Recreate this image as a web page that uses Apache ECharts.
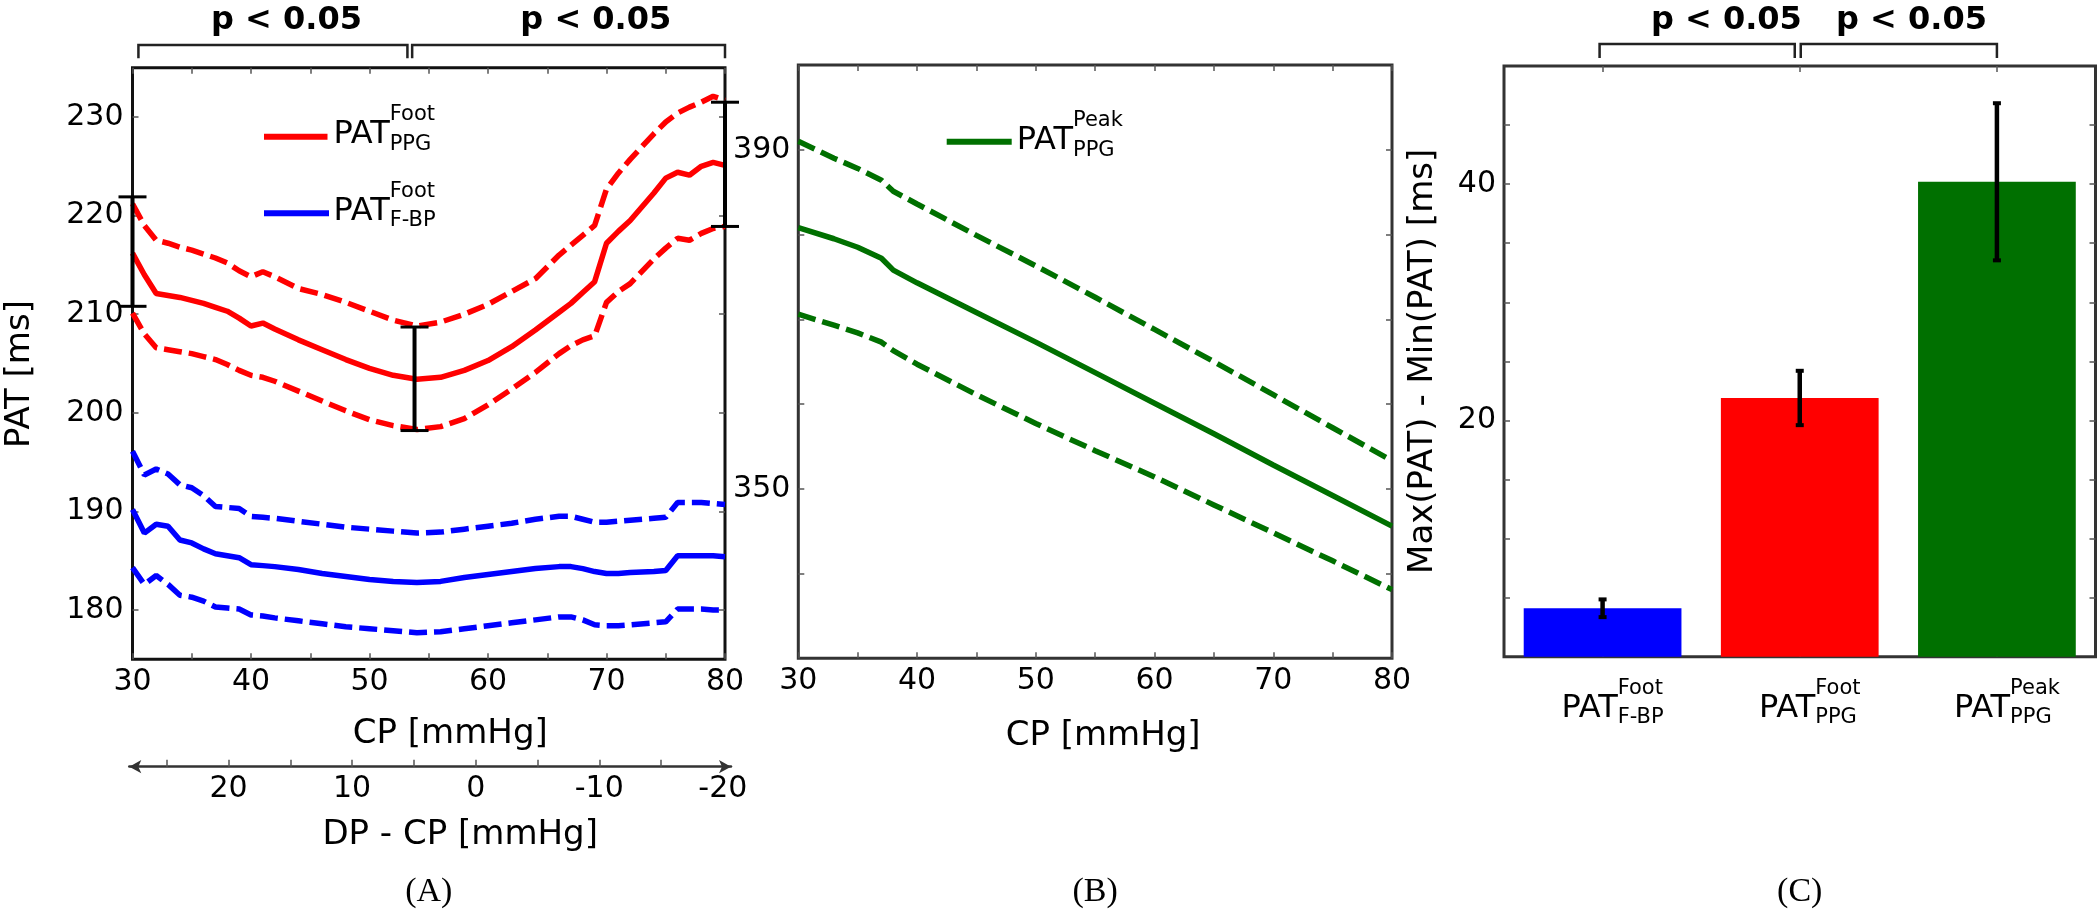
<!DOCTYPE html>
<html><head><meta charset="utf-8">
<script src="https://cdn.jsdelivr.net/npm/echarts@6/dist/echarts.min.js"></script>
<style>html,body{margin:0;padding:0;background:#fff}#c{width:2100px;height:911px}</style>
</head><body><div id="c"></div><script>
// ---------- data ----------
const cpA = [30,31,32,33,34,35,36,37,38,39,40,41,42,44,46,48,50,52,54,56,58,60,62,64,66,67,68,69,70,71,72,74,75,76,77,78,79,80];
const redMean  = [216.2,214.0,212.1,211.9,211.7,211.4,211.1,210.7,210.3,209.6,208.8,209.1,208.5,207.4,206.4,205.4,204.5,203.8,203.4,203.6,204.3,205.3,206.7,208.4,210.2,211.1,212.2,213.3,217.2,218.4,219.5,222.3,223.8,224.4,224.1,225.0,225.4,225.1];
const redUpper = [221.2,219.0,217.5,217.2,216.8,216.5,216.1,215.7,215.2,214.4,213.8,214.3,213.8,212.6,212.0,211.2,210.3,209.4,208.8,209.2,210.0,211.0,212.3,213.6,216.0,217.0,218.0,219.0,222.7,224.3,225.7,228.3,229.5,230.4,231.0,231.5,232.1,231.7];
const redLower = [210.1,208.0,206.6,206.4,206.2,206.0,205.7,205.4,204.9,204.3,203.8,203.6,203.2,202.2,201.2,200.2,199.3,198.7,198.3,198.6,199.4,200.8,202.4,204.1,206.0,206.8,207.4,207.8,211.2,212.3,213.1,215.6,216.7,217.7,217.5,218.2,218.7,218.9];
const blueMean  = [190.2,187.8,188.7,188.5,187.1,186.8,186.2,185.7,185.5,185.3,184.6,184.5,184.4,184.1,183.7,183.4,183.1,182.9,182.8,182.9,183.3,183.6,183.9,184.2,184.4,184.4,184.2,183.9,183.7,183.7,183.8,183.9,184.0,185.5,185.5,185.5,185.5,185.4];
const blueUpper = [196.1,193.7,194.3,193.8,192.7,192.4,191.6,190.5,190.4,190.3,189.5,189.4,189.3,189.0,188.7,188.4,188.2,188.0,187.8,187.9,188.2,188.5,188.8,189.2,189.5,189.5,189.2,188.9,188.9,189.0,189.1,189.3,189.4,190.9,190.9,190.9,190.8,190.7];
const blueLower = [184.3,182.6,183.5,182.6,181.5,181.3,180.9,180.3,180.2,180.1,179.5,179.4,179.2,178.9,178.6,178.3,178.1,177.9,177.7,177.8,178.1,178.4,178.7,179.0,179.3,179.3,179.0,178.5,178.4,178.4,178.5,178.7,178.8,180.1,180.1,180.1,180.0,180.0];
const errCpA   = [30, 53.8, 80];
const errLowA  = [210.8, 198.2, 218.9];
const errHighA = [221.9, 208.7, 231.5];

const cpB = [30,33,35,37,38,40,45,50,55,60,65,70,75,80];
const greenMean  = [380.8,379.5,378.5,377.2,375.8,374.3,370.8,367.3,363.7,360.1,356.5,352.8,349.2,345.6];
const greenUpper = [391.0,389.0,387.8,386.4,385.1,383.6,379.9,376.3,372.6,368.8,365.0,361.1,357.2,353.3];
const greenLower = [370.6,369.3,368.4,367.3,366.3,364.7,361.1,357.7,354.5,351.4,348.1,344.8,341.5,338.1];

const barCats   = ['PAT F-BP Foot', 'PAT PPG Foot', 'PAT PPG Peak'];
const barSup    = ['Foot', 'Foot', 'Peak'];
const barSub    = ['F-BP', 'PPG', 'PPG'];
const barValues = [4.1, 21.9, 40.2];
const barErr    = [0.75, 2.3, 6.65];
const barColors = ['#0000ff', '#ff0000', '#007000'];

const cpTicks = [30,35,40,45,50,55,60,65,70,75,80];
const cpLabels = [30,40,50,60,70,80];
const patTicksA = [180,190,200,210,220,230];
const patTicksB = [340,350,360,370,380,390];
const patLabelsB = [350,390];
const dpTicks = [25,20,15,10,5,0,-5,-10,-15];
const dpLabels = [20,10,0,-10,-20];
const diffTicks = [5,10,15,20,25,30,35,40,45];
const diffLabels = [20,40];
const pText = 'p < 0.05';

// ---------- layout ----------
const FONT = '"DejaVu Sans", sans-serif';
const GA = {left:132.5, top:67.7, width:592.5, height:591.6};
const GD = {left:129.3, top:700, width:601.7, height:66.7};
const GB = {left:798.3, top:65, width:593.7, height:593.3};
const GC = {left:1504, top:66, width:591.5, height:590.7};
const red = '#ff0000', blue = '#0000ff', green = '#007000';
const dash = [18, 7];

const chart = echarts.init(document.getElementById('c'));
const pairs = (xs, ys) => xs.map((x, i) => [x, ys[i]]);

function grid(g, border) {
  return Object.assign({show: border != null, borderColor: border || 'transparent', borderWidth: 3,
    backgroundColor: 'transparent', containLabel: false, outerBoundsMode: 'none'}, g);
}
const tickStyle = {show: true, inside: true, length: 6, lineStyle: {color: '#555', width: 1.5}};
const lblStyle = {color: '#000', fontSize: 30, fontFamily: FONT};
const nameStyle = {color: '#000', fontSize: 34, fontFamily: FONT};

function valAxis(extra) {
  return Object.assign({type: 'value', splitLine: {show: false}, axisLine: {show: false, onZero: false},
    nameMoveOverlap: false}, extra);
}

function line(x, y, xs, ys, color, dashed) {
  return {type: 'line', xAxisIndex: x, yAxisIndex: y, data: pairs(xs, ys), showSymbol: false, symbol: 'none',
    lineStyle: {color, width: 5.5, type: dashed ? dash : 'solid', cap: 'butt'}, z: 3, silent: true};
}

function errRender(capHalf, lwV, lwC) {
  return function (params, api) {
    const x = api.value(0), lo = api.value(1), hi = api.value(2);
    const a = api.coord([x, lo]), b = api.coord([x, hi]);
    const st = {stroke: '#000', lineWidth: lwV};
    const sc = {stroke: '#000', lineWidth: lwC};
    return {type: 'group', children: [
      {type: 'line', shape: {x1: a[0], y1: a[1], x2: b[0], y2: b[1]}, style: st},
      {type: 'line', shape: {x1: a[0] - capHalf, y1: a[1], x2: a[0] + capHalf, y2: a[1]}, style: sc},
      {type: 'line', shape: {x1: b[0] - capHalf, y1: b[1], x2: b[0] + capHalf, y2: b[1]}, style: sc}
    ]};
  };
}

const option = {
  animation: false,
  backgroundColor: '#fff',
  grid: [grid(GA, '#111'), grid(GD, null), grid(GB, '#333'), grid(GC, '#333')],
  xAxis: [
    valAxis({gridIndex: 0, min: 30, max: 80, position: 'bottom',
      axisTick: Object.assign({customValues: cpTicks}, tickStyle),
      axisLabel: Object.assign({customValues: cpLabels, margin: 8}, lblStyle),
      name: 'CP [mmHg]', nameLocation: 'middle', nameGap: 58,
      nameTextStyle: Object.assign({padding: [0, 0, 0, 43]}, nameStyle)}),
    valAxis({gridIndex: 0, min: 30, max: 80, position: 'top',
      axisTick: Object.assign({customValues: cpTicks}, tickStyle), axisLabel: {show: false}}),
    valAxis({gridIndex: 1, min: -20.66, max: 28.03, inverse: true, position: 'bottom',
      axisLine: {show: true, onZero: false, symbol: ['arrow', 'arrow'], symbolSize: [10, 12],
        lineStyle: {color: '#333', width: 2.5}},
      axisTick: {show: true, inside: true, length: 7, customValues: dpTicks, lineStyle: {color: '#555', width: 1.5}},
      axisLabel: Object.assign({customValues: dpLabels, margin: 8}, lblStyle),
      name: 'DP - CP [mmHg]', nameLocation: 'middle', nameGap: 51,
      nameTextStyle: Object.assign({padding: [0, 0, 0, 60]}, nameStyle)}),
    valAxis({gridIndex: 2, min: 30, max: 80, position: 'bottom',
      axisTick: Object.assign({customValues: cpTicks}, tickStyle),
      axisLabel: Object.assign({customValues: cpLabels, margin: 8}, lblStyle),
      name: 'CP [mmHg]', nameLocation: 'middle', nameGap: 61,
      nameTextStyle: Object.assign({padding: [0, 0, 0, 16]}, nameStyle)}),
    valAxis({gridIndex: 2, min: 30, max: 80, position: 'top',
      axisTick: Object.assign({customValues: cpTicks}, tickStyle), axisLabel: {show: false}}),
    {type: 'category', gridIndex: 3, data: barCats, position: 'bottom',
      axisLine: {show: false, onZero: false},
      axisTick: Object.assign({alignWithLabel: true}, tickStyle), axisLabel: {show: false}},
    {type: 'category', gridIndex: 3, data: barCats, position: 'top',
      axisLine: {show: false, onZero: false},
      axisTick: Object.assign({alignWithLabel: true}, tickStyle), axisLabel: {show: false}}
  ],
  yAxis: [
    valAxis({gridIndex: 0, min: 175, max: 235, position: 'left',
      axisTick: Object.assign({customValues: patTicksA}, tickStyle),
      axisLabel: Object.assign({customValues: patTicksA, margin: 9}, lblStyle),
      name: 'PAT [ms]', nameLocation: 'middle', nameGap: 95,
      nameTextStyle: Object.assign({padding: [0, 21, 0, 0]}, nameStyle)}),
    valAxis({gridIndex: 0, min: 175, max: 235, position: 'right',
      axisTick: Object.assign({customValues: patTicksA}, tickStyle), axisLabel: {show: false}}),
    valAxis({gridIndex: 1, min: 0, max: 1, show: false}),
    valAxis({gridIndex: 2, min: 330, max: 400, position: 'left',
      axisTick: Object.assign({customValues: patTicksB}, tickStyle),
      axisLabel: Object.assign({customValues: patLabelsB, margin: 8}, lblStyle)}),
    valAxis({gridIndex: 2, min: 330, max: 400, position: 'right',
      axisTick: Object.assign({customValues: patTicksB}, tickStyle), axisLabel: {show: false}}),
    valAxis({gridIndex: 3, min: 0, max: 50, position: 'left',
      axisTick: Object.assign({customValues: diffTicks}, tickStyle),
      axisLabel: Object.assign({customValues: diffLabels, margin: 8}, lblStyle),
      name: 'Max(PAT) - Min(PAT) [ms]', nameLocation: 'middle', nameGap: 64,
      nameTextStyle: nameStyle}),
    valAxis({gridIndex: 3, min: 0, max: 50, position: 'right',
      axisTick: Object.assign({customValues: diffTicks}, tickStyle), axisLabel: {show: false}})
  ],
  series: [
    line(0, 0, cpA, redUpper, red, true),
    line(0, 0, cpA, redMean, red, false),
    line(0, 0, cpA, redLower, red, true),
    line(0, 0, cpA, blueUpper, blue, true),
    line(0, 0, cpA, blueMean, blue, false),
    line(0, 0, cpA, blueLower, blue, true),
    {type: 'custom', xAxisIndex: 0, yAxisIndex: 0, clip: false, z: 5, silent: true,
      renderItem: errRender(14, 4, 3),
      encode: {x: 0, y: [1, 2]},
      data: errCpA.map((x, i) => [x, errLowA[i], errHighA[i]])},
    line(3, 3, cpB, greenUpper, green, true),
    line(3, 3, cpB, greenMean, green, false),
    line(3, 3, cpB, greenLower, green, true),
    {type: 'bar', xAxisIndex: 5, yAxisIndex: 5, barWidth: '80%', silent: true,
      data: barValues.map((v, i) => ({value: v, itemStyle: {color: barColors[i]}}))},
    {type: 'custom', xAxisIndex: 5, yAxisIndex: 5, clip: false, z: 5, silent: true,
      renderItem: errRender(4, 4.5, 4),
      encode: {x: 0, y: [1, 2]},
      data: barValues.map((v, i) => [i, v - barErr[i], v + barErr[i]])}
  ]
};
chart.setOption(option);

// ---------- annotations derived from the axes ----------
const mctx = document.createElement('canvas').getContext('2d');
function tw(t, f) { mctx.font = f; return mctx.measureText(t).width; }
const BIG = '32px ' + FONT, SMALL = '21px ' + FONT;
function patText(x, yc, sup, sub) {
  const w = tw('PAT', BIG);
  const s = (text, xx, yy, font) => ({type: 'text', x: xx, y: yy, silent: true,
    style: {text, font, fill: '#000', align: 'left', verticalAlign: 'middle'}});
  return [s('PAT', x, yc, BIG), s(sup, x + w, yc - 20, SMALL), s(sub, x + w, yc + 9.5, SMALL)];
}
function patWidth(sup, sub) { return tw('PAT', BIG) + Math.max(tw(sup, SMALL), tw(sub, SMALL)); }

const px = (ax, v) => chart.convertToPixel({xAxisIndex: ax}, v);
const g = [];
function bracket(x1, x2, yTop, yBot) {
  g.push({type: 'polyline', silent: true, shape: {points: [[x1, yBot], [x1, yTop], [x2, yTop], [x2, yBot]]},
    style: {stroke: '#222', lineWidth: 2.5, fill: null}});
}
function ptext(x, y) {
  g.push({type: 'text', x, y, silent: true,
    style: {text: pText, font: 'bold 32px ' + FONT, fill: '#000', align: 'center', verticalAlign: 'middle'}});
}
// panel A brackets
bracket(px(0, 30.5), px(0, 53.2), 45, 58.3);
bracket(px(0, 53.6), px(0, 80), 45, 58.3);
ptext(px(0, 43.0), 21);
ptext(px(0, 69.1), 21);
// panel C brackets
const c = barCats.map(k => px(5, k));
const step = c[1] - c[0];
bracket(c[0] - 3, c[1] - 5, 44, 58);
bracket(c[1] + 1, c[2], 44, 58);
ptext(c[0] + 0.628 * step, 21);
ptext(c[0] + 1.567 * step, 21);

// legends
function legendLine(x1, x2, y, color) {
  g.push({type: 'line', silent: true, shape: {x1, y1: y, x2, y2: y}, style: {stroke: color, lineWidth: 6}});
}
legendLine(GA.left + 131.5, GA.left + 195, GA.top + 69, red);
g.push(...patText(GA.left + 201, GA.top + 67, 'Foot', 'PPG'));
legendLine(GA.left + 131.5, GA.left + 196.5, GA.top + 145.6, blue);
g.push(...patText(GA.left + 201, GA.top + 143.6, 'Foot', 'F-BP'));
legendLine(GB.left + 148.4, GB.left + 213.4, GB.top + 76.7, green);
g.push(...patText(GB.left + 218.5, GB.top + 75.7, 'Peak', 'PPG'));

// category labels of panel C
barCats.forEach((k, i) => {
  const w = patWidth(barSup[i], barSub[i]);
  g.push(...patText(c[i] + 10 - w / 2, GC.top + GC.height + 51.6, barSup[i], barSub[i]));
});

// panel letters
[['(A)', GA], ['(B)', GB], ['(C)', GC]].forEach(([t, gg]) => {
  g.push({type: 'text', x: gg.left + gg.width / 2, y: 891.7, silent: true,
    style: {text: t, font: '34px "Liberation Serif", "Times New Roman", serif', fill: '#000', align: 'center', verticalAlign: 'middle'}});
});

chart.setOption({graphic: g});
</script></body></html>
